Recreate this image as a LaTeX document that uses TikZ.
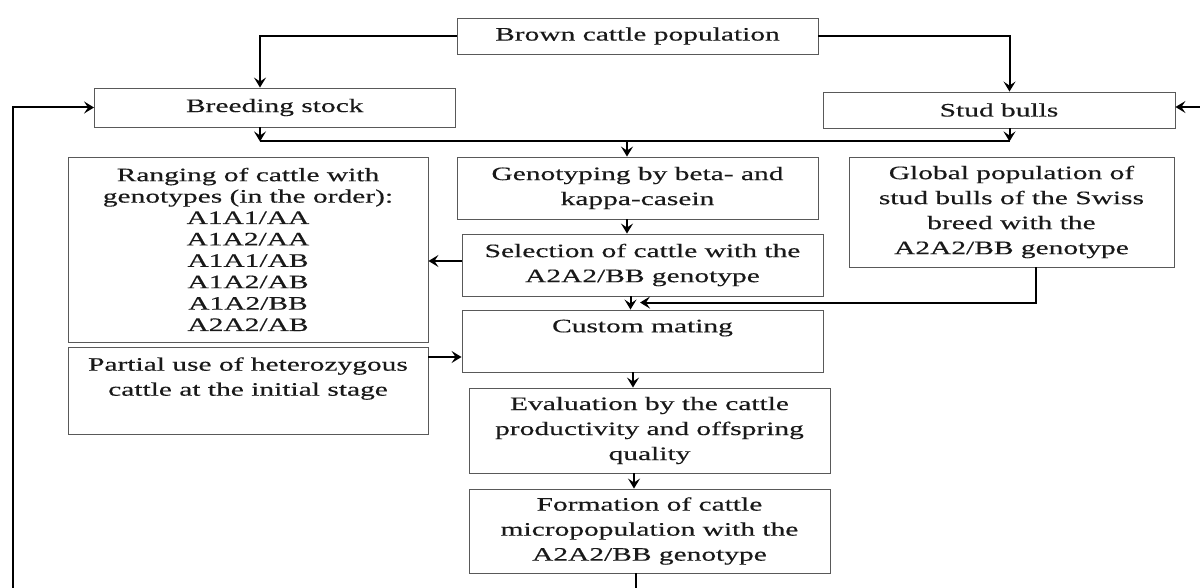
\documentclass[tikz,border=0pt]{standalone}
\usepackage{fontspec}
\setmainfont{Liberation Serif}[FakeStretch=1.55,FakeBold=0.3]
\usetikzlibrary{arrows.meta}
\begin{document}
\begin{tikzpicture}[x=1pt,y=1pt,
  box/.style={draw=black!65, line width=0.9pt, align=center, inner sep=0pt,
    font=\fontsize{19}{25}\selectfont, text=black!90},
  conn/.style={line width=2pt, black},
  arr/.style={conn, -{Stealth[length=10pt,width=12pt,inset=4pt]}}]
\useasboundingbox (0,0) rectangle (1200,-588);
\fill[white] (0,0) rectangle (1200,-588);
\node[box, minimum width=361pt, minimum height=36pt] (brown) at (637.5,-36) {Brown cattle population};
\node[box, minimum width=360.5pt, minimum height=39pt] (breed) at (274.75,-107.5) {Breeding stock};
\node[box, minimum width=352pt, minimum height=36pt] (stud) at (999,-110) {Stud bulls};
\node[box, font=\fontsize{19}{21.4}\selectfont, minimum width=360pt, minimum height=185pt] (rang) at (248,-249.5)
  {Ranging of cattle with\\ genotypes (in the order):\\ A1A1/AA\\ A1A2/AA\\ A1A1/AB\\ A1A2/AB\\ A1A2/BB\\ A2A2/AB};
\node[box, minimum width=361pt, minimum height=62pt] (geno) at (637.5,-188) {Genotyping by beta- and\\ kappa-casein};
\node[box, minimum width=361pt, minimum height=62pt] (sel) at (642.5,-265) {Selection of cattle with the\\ A2A2/BB genotype};
\node[box, minimum width=325pt, minimum height=110pt] (glob) at (1011.5,-212) {Global population of\\ stud bulls of the Swiss\\ breed with the\\ A2A2/BB genotype};
\node[box, minimum width=361pt, minimum height=62pt] (cust) at (642.5,-341) {Custom mating\\[5pt]\mbox{}};
\node[box, minimum width=360pt, minimum height=87pt] (part) at (248,-390.5) {Partial use of heterozygous\\ cattle at the initial stage\\[3pt]\mbox{}};
\node[box, minimum width=361pt, minimum height=85pt] (eval) at (649.5,-430.5) {Evaluation by the cattle\\ productivity and offspring\\ quality};
\node[box, minimum width=361pt, minimum height=84pt] (form) at (649.5,-531) {Formation of cattle\\ micropopulation with the\\ A2A2/BB genotype};
% connectors
\coordinate (bx) at ([xshift=-14.75pt]breed.north);
\coordinate (sx) at ([xshift=10.5pt]stud.north);
\draw[arr] (brown.west) -| (bx);
\draw[arr] (brown.east) -| (sx);
\coordinate (bs) at ([xshift=-14.75pt]breed.south);
\coordinate (ss) at ([xshift=10.5pt]stud.south);
\coordinate (bl) at ([yshift=-14pt]bs);
\coordinate (br) at ([yshift=-13pt]ss);
\draw[arr] (bs) -- (bl);
\draw[arr] (ss) -- (br);
\draw[conn] (bl) -- (br);
\coordinate (gx) at ([xshift=-10.5pt]geno.north);
\draw[arr] (bl -| gx) -- (gx);
\coordinate (gs) at ([xshift=-10.5pt]geno.south);
\draw[arr] (gs) -- (gs |- sel.north);
\coordinate (s1) at ([yshift=4pt]sel.west);
\draw[arr] (s1) -- (s1 -| rang.east);
\coordinate (p1) at ([yshift=33.5pt]part.east);
\draw[arr] (p1) -- (p1 -| cust.west);
\coordinate (c1) at ([xshift=-12pt]sel.south);
\draw[arr] (c1) -- (c1 |- cust.north);
\coordinate (g1) at ([xshift=24pt]glob.south);
\coordinate (m1) at ([xshift=-2.5pt,yshift=7pt]cust.north);
\draw[arr] (g1) |- (m1);
\coordinate (e1) at ([xshift=-9.5pt]cust.south);
\draw[arr] (e1) -- (e1 |- eval.north);
\coordinate (f1) at ([xshift=-15.5pt]eval.south);
\draw[arr] (f1) -- (f1 |- form.north);
\coordinate (o1) at ([xshift=-13.5pt]form.south);
\coordinate (o2) at (636,-592);
\draw[conn] (o1) -- (o2);
\coordinate (lb) at (13.4,-592);
\draw[arr] (lb) |- (breed.west);
\coordinate (rr) at (1204,-107);
\draw[arr] (rr) -- (rr -| stud.east);
\end{tikzpicture}
\end{document}
